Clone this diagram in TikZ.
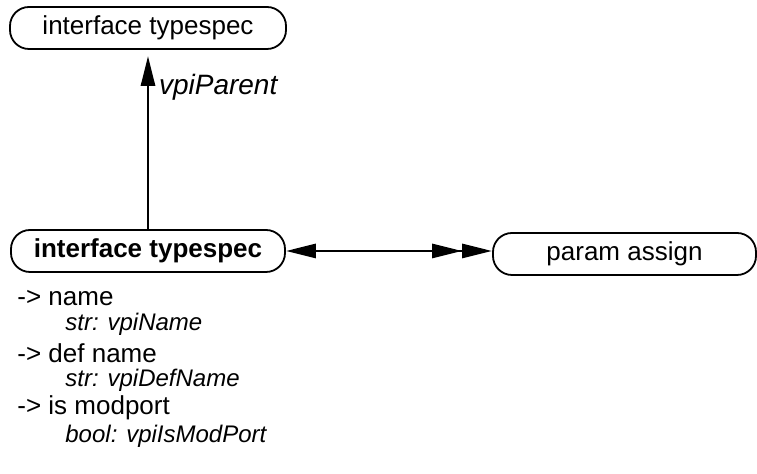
\documentclass[tikz,border=0pt]{standalone}
\usepackage{fontspec}
\setmainfont{Liberation Sans}
\usetikzlibrary{arrows.meta}

\tikzset{
    obj/.style={draw, line width=0.9pt, rounded corners=9.5pt, minimum height=21pt, inner sep=0pt, font=\fontsize{13}{15}\selectfont},
    attr/.style={right, inner sep=0pt, font=\fontsize{13}{15}\selectfont},
    attrtype/.style={right, inner sep=0pt, font=\fontsize{12}{14}\selectfont\itshape},
    link/.style={line width=1.4pt, >={Triangle[length=15pt,width=7pt]}}
}

\begin{document}
\begin{tikzpicture}[x=0.5pt, y=-0.5pt]
    \useasboundingbox (0,0) rectangle (757,474);

    %objects
    \node[obj, minimum width=138pt] (parent) at (148,28) {interface typespec};
    \node[obj, minimum width=137pt] (iface) at (148,251) {\bfseries interface typespec};
    \node[obj, minimum width=131.5pt] (param) at (624.5,254) {param assign};

    %relations
    \draw[link, ->, shorten >=3pt] (iface.north) -- (parent.south)
        node[pos=0.79, right=1.5pt, font=\fontsize{14}{16}\selectfont\itshape] (parentlbl) {vpiParent};
    \draw[link, <->>] (iface.east) -- (iface.east -| param.west);

    %attributes
    \node[attr] (name) at (17,298) {-> name};
    \node[attrtype] (namet) at (65,324) {str: vpiName};
    \node[attr] (defname) at (17,353) {-> def name};
    \node[attrtype] (defnamet) at (65,380) {str: vpiDefName};
    \node[attr] (modport) at (17,408) {-> is modport};
    \node[attrtype] (modportt) at (65,436) {bool: vpiIsModPort};
\end{tikzpicture}
\end{document}
